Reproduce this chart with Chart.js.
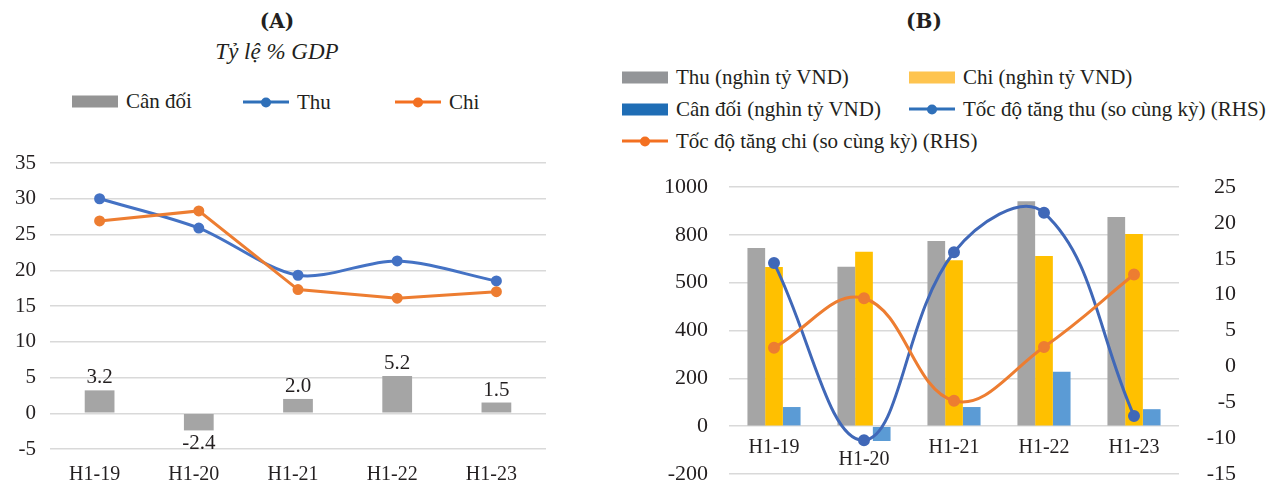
<!DOCTYPE html>
<html>
<head>
<meta charset="utf-8">
<script src="https://cdn.jsdelivr.net/npm/chart.js@4.4.0/dist/chart.umd.min.js"></script>
<style>
  html, body { margin: 0; padding: 0; background: #fff; }
  body { width: 1279px; height: 488px; position: relative; overflow: hidden;
         font-family: "Liberation Serif", serif; color: #231f20; }
  .title { position: absolute; font-family: "DejaVu Serif", serif; font-weight: bold;
           font-size: 20px; line-height: 1; transform: translate(-50%, -50%); white-space: nowrap; }
  .subtitle { position: absolute; font-style: italic; font-size: 23px; line-height: 1;
              transform: translate(-50%, -50%); white-space: nowrap; }
  .legend-item { position: absolute; display: flex; align-items: center; font-size: 21px;
                 line-height: 1; white-space: nowrap; transform: translateY(-50%); }
  .sw-box { width: 46px; height: 12px; margin-right: 8px; flex: none; }
  .sw-line { width: 46px; height: 3px; margin-right: 8px; flex: none; position: relative; }
  .sw-line i { position: absolute; left: 50%; top: 50%; width: 10px; height: 10px;
               border-radius: 50%; transform: translate(-50%, -50%); }
  canvas { position: absolute; }
</style>
</head>
<body>
<div class="title" style="left:277px; top:21px;">(A)</div>
<div class="subtitle" style="left:277px; top:51px;">Tỷ lệ % GDP</div>
<div class="title" style="left:924px; top:21px;">(B)</div>
<div id="legendA"></div>
<div id="legendB"></div>
<canvas id="chartA" width="560" height="348" style="left:0; top:140px;"></canvas>
<canvas id="chartB" width="679" height="328" style="left:600px; top:160px;"></canvas>

<script>
// Half-year periods
const categories = ['H1-19', 'H1-20', 'H1-21', 'H1-22', 'H1-23'];

// (A) budget revenue, expenditure and balance, % of GDP
const canDoiGdp = [3.2, -2.4, 2.0, 5.2, 1.5];
const thuGdp = [30.0, 25.9, 19.3, 21.3, 18.5];
const chiGdp = [26.9, 28.3, 17.3, 16.1, 17.0];

// (B) levels in thousand billion VND, growth in % y/y (right axis)
const thuVnd = [745, 667, 774, 940, 875];
const chiVnd = [665, 729, 694, 712, 804];
const canDoiVnd = [80, -62, 80, 228, 71];
const thuGrowth = [14.4, -10.3, 15.9, 21.4, -6.9];
const chiGrowth = [2.6, 9.5, -4.8, 2.7, 12.8];

// Tick labels of the left axis of (B), from -200 to 1000
const leftTickLabelsB = ['-200', '0', '200', '400', '500', '800', '1000'];

const FONT = '"Liberation Serif", serif';
const TEXT = '#231f20';
const GRID = '#d9d9d9';

// Keep the vertical axes from pushing the plot area in; the layout padding covers their labels
function noVerticalOverflow(s) {
  s.paddingTop = 0;
  s.paddingBottom = 0;
}

// Value labels above (or below, when negative) the bars of a dataset
const barValueLabels = {
  id: 'barValueLabels',
  afterDatasetsDraw(chart, args, opts) {
    const ctx = chart.ctx;
    (opts.datasets || []).forEach(i => {
      const ds = chart.data.datasets[i];
      chart.getDatasetMeta(i).data.forEach((el, j) => {
        const v = ds.data[j];
        ctx.save();
        ctx.font = '21px ' + FONT;
        ctx.fillStyle = TEXT;
        ctx.textAlign = 'center';
        ctx.textBaseline = v >= 0 ? 'bottom' : 'top';
        ctx.fillText(v.toFixed(1), el.x, v >= 0 ? el.y - 2 : el.y + 3);
        ctx.restore();
      });
    });
  }
};

// HTML legend built from the chart's datasets
function buildLegend(chart, containerId, items) {
  const box = document.getElementById(containerId);
  chart.data.datasets.forEach((ds, i) => {
    const it = items[i];
    const div = document.createElement('div');
    div.className = 'legend-item';
    div.style.left = it.x + 'px';
    div.style.top = it.y + 'px';
    const sw = document.createElement('span');
    if (it.kind === 'line') {
      sw.className = 'sw-line';
      sw.style.background = it.color;
      const dot = document.createElement('i');
      dot.style.background = it.color;
      sw.appendChild(dot);
    } else {
      sw.className = 'sw-box';
      sw.style.background = it.color;
    }
    div.appendChild(sw);
    div.appendChild(document.createTextNode(ds.label));
    box.appendChild(div);
  });
}

// ---------- (A) ----------
const chartA = new Chart(document.getElementById('chartA'), {
  data: {
    labels: categories,
    datasets: [
      { type: 'bar', label: 'Cân đối', data: canDoiGdp, backgroundColor: '#a5a5a5',
        barPercentage: 1, categoryPercentage: 0.3, order: 3 },
      { type: 'line', label: 'Thu', data: thuGdp, borderColor: '#4472c4', backgroundColor: '#4472c4',
        borderWidth: 3, pointRadius: 4, pointHoverRadius: 4, tension: 0.3, order: 2 },
      { type: 'line', label: 'Chi', data: chiGdp, borderColor: '#ed7d31', backgroundColor: '#ed7d31',
        borderWidth: 3, pointRadius: 4, pointHoverRadius: 4, tension: 0, order: 1 }
    ]
  },
  options: {
    responsive: false,
    animation: false,
    layout: { padding: { top: 23, right: 14, bottom: 0, left: 0 } },
    plugins: {
      legend: { display: false },
      tooltip: { enabled: false },
      barValueLabels: { datasets: [0] }
    },
    scales: {
      x: {
        grid: { display: false, drawTicks: false },
        border: { display: false },
        ticks: { color: TEXT, font: { family: FONT, size: 20 }, padding: 14, maxRotation: 0,
                 labelOffset: -5 },
        afterFit: s => { s.height = 39; }
      },
      y: {
        min: -5, max: 35,
        grid: { color: GRID, lineWidth: 1.5, drawTicks: false },
        border: { display: false },
        ticks: { stepSize: 5, color: TEXT, font: { family: FONT, size: 21 }, padding: 14 },
        afterFit: s => { s.width = 50; noVerticalOverflow(s); }
      }
    }
  },
  plugins: [barValueLabels]
});

buildLegend(chartA, 'legendA', [
  { kind: 'box', color: '#949494', x: 72, y: 101 },
  { kind: 'line', color: '#2f70b9', x: 243, y: 102 },
  { kind: 'line', color: '#f37021', x: 395, y: 102 }
]);

// ---------- (B) ----------
const chartB = new Chart(document.getElementById('chartB'), {
  data: {
    labels: categories,
    datasets: [
      { type: 'bar', label: 'Thu (nghìn tỷ VND)', data: thuVnd, backgroundColor: '#a5a5a5',
        yAxisID: 'y', barPercentage: 1, categoryPercentage: 0.59, order: 3 },
      { type: 'bar', label: 'Chi (nghìn tỷ VND)', data: chiVnd, backgroundColor: '#ffc000',
        yAxisID: 'y', barPercentage: 1, categoryPercentage: 0.59, order: 3 },
      { type: 'bar', label: 'Cân đối (nghìn tỷ VND)', data: canDoiVnd, backgroundColor: '#5b9bd5',
        yAxisID: 'y', barPercentage: 1, categoryPercentage: 0.59, order: 3 },
      { type: 'line', label: 'Tốc độ tăng thu (so cùng kỳ) (RHS)', data: thuGrowth, yAxisID: 'y1',
        borderColor: '#4068b8', backgroundColor: '#4068b8', borderWidth: 3,
        pointRadius: 4.5, pointHoverRadius: 4.5, tension: 0.4, order: 2 },
      { type: 'line', label: 'Tốc độ tăng chi (so cùng kỳ) (RHS)', data: chiGrowth, yAxisID: 'y1',
        borderColor: '#ed7d31', backgroundColor: '#ed7d31', borderWidth: 3,
        pointRadius: 4.5, pointHoverRadius: 4.5, tension: 0.4, order: 1 }
    ]
  },
  options: {
    responsive: false,
    animation: false,
    layout: { padding: { top: 27, right: 43, bottom: 14, left: 0 } },
    plugins: {
      legend: { display: false },
      tooltip: { enabled: false }
    },
    scales: {
      x: {
        // category axis drawn along the zero line of the left axis
        position: { y: 0 },
        grid: { display: false, drawTicks: false },
        border: { display: false },
        ticks: {
          color: TEXT,
          padding: 10,
          maxRotation: 0,
          autoSkip: false,
          // the H1-20 label sits lower, clear of its negative bar
          callback: (v, i) => i === 1 ? ['', categories[i]] : categories[i],
          font: c => c.index === 1 ? { family: FONT, size: 20, lineHeight: 0.78 }
                                   : { family: FONT, size: 20 }
        },
        afterFit: s => { s.height = 0; }
      },
      y: {
        position: 'left',
        min: -200, max: 1000,
        grid: { color: GRID, lineWidth: 1.5, drawTicks: false },
        border: { display: false },
        ticks: {
          stepSize: 200, color: TEXT, font: { family: FONT, size: 22 }, padding: 21,
          callback: v => leftTickLabelsB[Math.round((v + 200) / 200)]
        },
        afterFit: s => { s.width = 129; noVerticalOverflow(s); }
      },
      y1: {
        position: 'right',
        min: -15, max: 25,
        grid: { display: false, drawTicks: false },
        border: { display: false },
        ticks: { stepSize: 5, color: TEXT, font: { family: FONT, size: 22 }, crossAlign: 'far' },
        afterFit: s => { s.width = 57; noVerticalOverflow(s); }
      }
    }
  }
});

buildLegend(chartB, 'legendB', [
  { kind: 'box', color: '#939598', x: 622, y: 77 },
  { kind: 'box', color: '#fec44f', x: 909, y: 77 },
  { kind: 'box', color: '#1f6db5', x: 622, y: 109 },
  { kind: 'line', color: '#2f70b9', x: 909, y: 109 },
  { kind: 'line', color: '#f37021', x: 622, y: 141 }
]);
</script>
</body>
</html>
